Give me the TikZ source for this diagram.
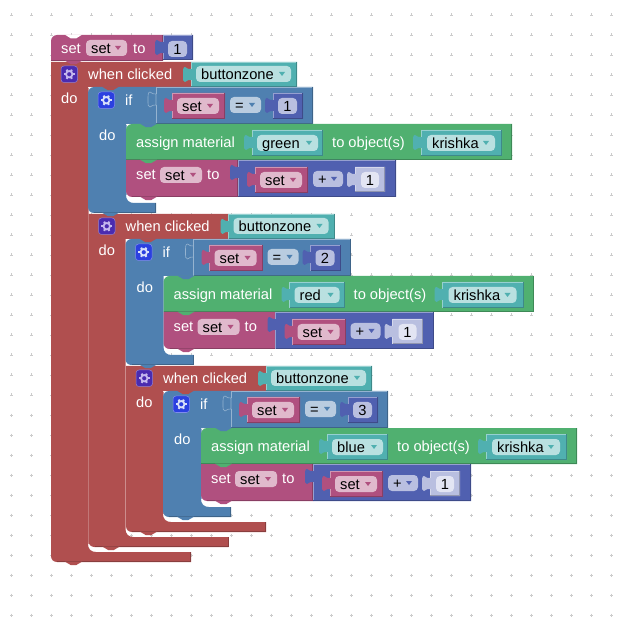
\documentclass[tikz,border=0pt]{standalone}
\usepackage{fontspec}
\setmainfont{Liberation Sans}
\usetikzlibrary{calc}
\definecolor{cMag}{HTML}{B0507F}
\definecolor{cRed}{HTML}{B04F4F}
\definecolor{cSteel}{HTML}{4F80B0}
\definecolor{cGreen}{HTML}{50B070}
\definecolor{cTeal}{HTML}{50B0B0}
\definecolor{cInd}{HTML}{5060B0}
\definecolor{pMag}{HTML}{E0B9CC}
\definecolor{pTeal}{HTML}{B9E0E0}
\definecolor{pInd}{HTML}{B9BFE0}
\definecolor{pSteel}{HTML}{B9CCE0}
\definecolor{pWhite}{HTML}{E3E5F3}
\definecolor{iPur}{HTML}{4A2BB0}
\definecolor{iBlue}{HTML}{2B40E0}
\definecolor{gPur}{HTML}{C4B8EE}
\definecolor{gBlue}{HTML}{D8E0FA}
\newcount\tcnt
\tikzset{
  lbl/.style={inner sep=0pt,anchor=base west,font=\fontsize{14.67}{16}\selectfont},
  wtxt/.style={lbl,text=white},
  btxt/.style={lbl,text=black},
  ctxt/.style={inner sep=0pt,anchor=base,font=\fontsize{14.67}{16}\selectfont,text=black}
}
% text nodes with automatic names
\newcommand\wt[3]{\global\advance\tcnt by 1 \node[wtxt] (t\the\tcnt) at ({#1},{#2+0.8}) {#3};}
\newcommand\bt[3]{\global\advance\tcnt by 1 \node[btxt] (t\the\tcnt) at ({#1},{#2+0.8}) {#3};}
\newcommand\ct[3]{\global\advance\tcnt by 1 \node[ctxt] (t\the\tcnt) at ({#1},{#2+0.8}) {#3};}
% C-shaped block: L,T,colR,headR,headB,botT,botR,colour,topradius
\newcommand\cblock[9]{%
  \fill[#8] (#1,#2+#9) .. controls (#1,#2+0.45*#9) and (#1+0.45*#9,#2) .. (#1+#9,#2)
    -- (#4,#2) -- (#4,#5) -- (#3,#5) -- (#3,#6-8)
    .. controls (#3,#6-3) and (#3+3,#6) .. (#3+8,#6)
    -- (#7,#6) -- (#7,#6+10) -- (#1+6,#6+10)
    .. controls (#1+2.5,#6+10) and (#1,#6+7.5) .. (#1,#6+4) -- cycle;
  \draw[#8!78!black,line width=.7pt] (#1+6,#6+9.65) -- (#7-.35,#6+9.65) -- (#7-.35,#6);
  \draw[#8!65!white,line width=.6pt] (#3,#5+1) -- (#3,#6-8);
}
% rectangle statement block: L,T,R,B,colour,top radius,bottom radius
\newcommand\sblock[7]{%
  \fill[#5] (#1,#2+#6) .. controls (#1,#2+0.45*#6) and (#1+0.45*#6,#2) .. (#1+#6,#2)
    -- (#3,#2) -- (#3,#4) -- (#1+#7,#4)
    .. controls (#1+0.45*#7,#4) and (#1,#4-0.45*#7) .. (#1,#4-#7) -- cycle;
  \draw[#5!78!black,line width=.7pt] (#1+#7,#4-.35) -- (#3-.35,#4-.35) -- (#3-.35,#2);
}
% value block with a tab on the left: x1,y1,x2,y2,colour
\newcommand\tabpath[2]{(#1,#2+18) .. controls (#1-2,#2+17) and (#1-4,#2+19) .. (#1-6,#2+20)
    .. controls (#1-8,#2+20) and (#1-8,#2+18) .. (#1-8,#2+13)
    .. controls (#1-8,#2+8) and (#1-8,#2+5) .. (#1-6,#2+5)
    .. controls (#1-4,#2+6) and (#1-2,#2+8) .. (#1,#2+7)}
\newcommand\vblock[5]{%
  \fill[#5] (#1,#2) -- (#3,#2) -- (#3,#4) -- (#1,#4) -- \tabpath{#1}{#2} -- cycle;
  \draw[#5!60!white,line width=.6pt] (#1,#4) -- (#1,#2+18) (#1,#2+7) -- (#1,#2) -- (#3,#2);
  \draw[#5!78!black,line width=.6pt] (#1,#4-.3) -- (#3-.3,#4-.3) -- (#3-.3,#2);
}
% outlined socket of an if block
\newcommand\socket[3]{\draw[#3!60!white,line width=.6pt] \tabpath{#1}{#2} -- (#1,#2+18);}
% bump under a statement block: L,y,colour
\newcommand\bump[3]{%
  \fill[#3] (#1+14,#2-.3) -- (#1+20,#2+3.2) -- (#1+25,#2+3.2) -- (#1+31,#2-.3) -- cycle;
}
% dropdown field: x1,y,x2,text,pill colour,triangle colour
\newcommand\dropf[6]{%
  \fill[#5,rounded corners=4pt] (#1,#2) rectangle (#3,#2+16);
  \bt{#1+5}{#2+13}{#4}
  \fill[#6] (#3-12,#2+6) -- (#3-6,#2+6) -- (#3-9,#2+10) -- cycle;
}
\newcommand\numf[5]{% x1,y,x2,text,colour
  \fill[#5,rounded corners=4pt] (#1,#2) rectangle (#3,#2+16);
  \ct{0.5*(#1)+0.5*(#3)}{#2+13}{#4}
}
% gear icon: x,y (top left), colour of box, colour of gear
\newcommand\gearicon[4]{%
  \fill[#3,rounded corners=3pt] (#1,#2) rectangle (#1+16.5,#2+16.5);
  \draw[#3!60!white,line width=.5pt,rounded corners=3pt] (#1,#2) rectangle (#1+16.5,#2+16.5);
  \foreach \a in {0,60,...,300}{
    \draw[#4,line width=2pt] ($(#1+8.25,#2+8.25)+(\a:3pt)$) -- ($(#1+8.25,#2+8.25)+(\a:5.3pt)$);
  }
  \draw[#4,line width=1.8pt] (#1+8.25,#2+8.25) circle[radius=3.2pt];
}
% one if block with its content
\newcommand\ifunit[5]{% dx, dy, number, word, W
  \cblock{#1+88}{#2+87}{#1+126}{#1+156}{#2+124}{#2+203}{#1+156}{cSteel}{6}
  \vblock{#1+156}{#2+87}{#1+313}{#2+124}{cSteel}
  \socket{#1+156}{#2+87}{cSteel}
  \gearicon{#1+98}{#2+92}{iBlue}{gBlue}
  \wt{#1+125}{#2+105}{if}
  \wt{#1+99}{#2+140}{do}
  \vblock{#1+172}{#2+93}{#1+225}{#2+119}{cMag}
  \dropf{#1+177}{#2+98}{#1+219}{set}{pMag}{cMag}
  \dropf{#1+230}{#2+97}{#1+261}{=}{pSteel}{cSteel}
  \vblock{#1+273}{#2+93}{#1+303}{#2+119}{cInd}
  \numf{#1+278}{#2+98}{#1+297}{#3}{pInd}
  % assign material
  \sblock{#1+126}{#2+124}{#1+512+#5-71}{#2+160}{cGreen}{6}{0}
  \wt{#1+136}{#2+147}{assign material}
  \vblock{#1+252}{#2+130}{#1+252+#5}{#2+156}{cTeal}
  \dropf{#1+257}{#2+135}{#1+252+#5-5}{#4}{pTeal}{cTeal}
  \wt{#1+332+#5-71}{#2+147}{to object(s)}
  \vblock{#1+421+#5-71}{#2+130}{#1+502+#5-71}{#2+156}{cTeal}
  \dropf{#1+427+#5-71}{#2+135}{#1+495+#5-71}{krishka}{pTeal}{cTeal}
  % set row
  \sblock{#1+126}{#2+160}{#1+238}{#2+197}{cMag}{0}{6}
  \wt{#1+136}{#2+179}{set}
  \dropf{#1+160}{#2+167}{#1+202}{set}{pMag}{cMag}
  \wt{#1+207}{#2+179}{to}
  \vblock{#1+238}{#2+160}{#1+396}{#2+197}{cInd}
  \vblock{#1+255}{#2+167}{#1+308}{#2+193}{cMag}
  \dropf{#1+260}{#2+172}{#1+302}{set}{pMag}{cMag}
  \dropf{#1+313}{#2+171}{#1+343}{+}{pInd}{cInd}
  \vblock{#1+355}{#2+167}{#1+385}{#2+192}{pInd}
  \numf{#1+361}{#2+172}{#1+379}{1}{pWhite}
  % bumps
  \bump{#1+126}{#2+124}{cSteel}
  \bump{#1+126}{#2+160}{cGreen}
  \bump{#1+126}{#2+197}{cMag}
}
% when clicked header
\newcommand\whenhdr[3]{% dx, T, bottom-bar top
  \cblock{#1+51}{#2}{#1+88}{#1+191}{#2+25}{#3}{#1+191}{cRed}{0}
  \vblock{#1+191}{#2}{#1+297}{#2+25}{cTeal}
  \gearicon{#1+61}{#2+4}{iPur}{gPur}
  \wt{#1+88}{#2+17}{when clicked}
  \dropf{#1+196}{#2+4}{#1+291}{buttonzone}{pTeal}{cTeal}
  \wt{#1+61}{#2+41}{do}
}
\begin{document}
\begin{tikzpicture}[x=1pt,y=-1pt]
\useasboundingbox (0,0) rectangle (625,623);
\fill[white] (0,0) rectangle (625,623);
\foreach \i in {0,...,30}{\foreach \j in {0,...,30}{
  \draw[black!20,line width=.6pt] (11.5+20*\i-1.5,15+20*\j) -- (11.5+20*\i+1.5,15+20*\j)
     (11.5+20*\i,15+20*\j-1.5) -- (11.5+20*\i,15+20*\j+1.5);
}}
% outer blocks, outermost first
\whenhdr{0}{62}{552}
\whenhdr{37.5}{214}{537}
\whenhdr{75}{366}{522}
% top set block
\sblock{51}{35}{163}{61}{cMag}{6}{0}
\fill[white] (65,34.7) -- (71,38.5) -- (76,38.5) -- (82,34.7) -- cycle;
\wt{61}{53}{set}
\dropf{86}{40}{127}{set}{pMag}{cMag}
\wt{133}{53}{to}
\vblock{163}{35}{193}{60}{cInd}
\numf{168}{41}{187}{1}{pInd}
% units
\ifunit{0}{0}{1}{green}{71}
\ifunit{37.5}{152}{2}{red}{55}
\ifunit{75}{304}{3}{blue}{61}
% remaining bumps
\bump{51}{61}{cMag}
\bump{88}{87}{cRed}
\bump{125.5}{239}{cRed}
\bump{163}{391}{cRed}
\bump{88}{213}{cSteel}
\bump{125.5}{365}{cSteel}
\bump{163}{517}{cSteel}
\bump{51}{562}{cRed}
\bump{88.5}{547}{cRed}
\bump{126}{532}{cRed}
\end{tikzpicture}
\end{document}
